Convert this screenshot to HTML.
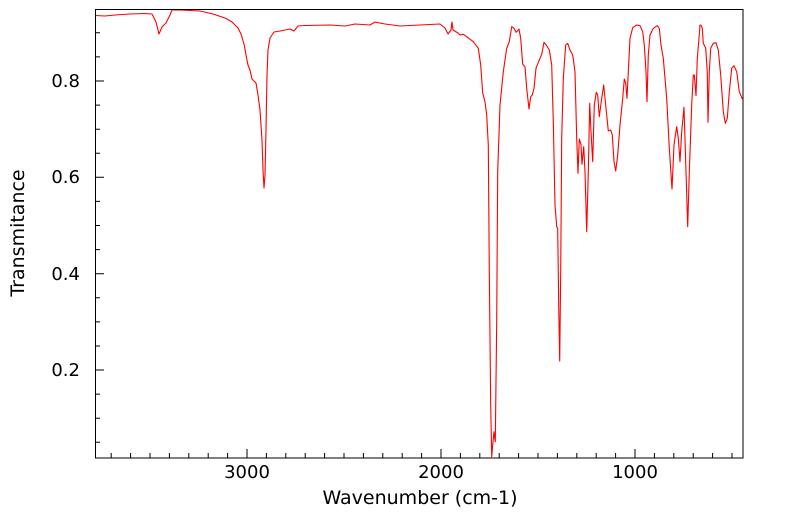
<!DOCTYPE html>
<html><head><style>
body{margin:0;background:#fff;}
svg text{font-family:"DejaVu Sans","Liberation Sans",sans-serif;fill:#000;}
</style></head><body>
<svg width="799" height="516" xmlns="http://www.w3.org/2000/svg">
<rect x="0" y="0" width="799" height="516" fill="#fff"/>
<polyline fill="none" stroke="#ff0000" stroke-width="1.1" stroke-linejoin="round" points="
95,15.5 105,16 115,15 130,14 145,13.5 152,14 156,22 159,34 162,27 166,23 170,15 172,10 180,10 200,11 213,14 225,18 232,22 238,28 241,34 244,44 246,55 248,65 250,70 252,79 256,83 258,95 260,110 262,140 263,170 264,188 265,175 266,130 267,75 268,50 270,38 274,32 280,31 290,29 294,31 298,26 305,25.5 330,25 345,26 355,24 370,25 375,22 385,24 400,26 420,25 440,24 445,28 448,34 451,30 452,22 453,30 458,33 460,35
463.3,34.3 466.7,36.7 473.3,41.7 478.3,48.3 480.7,65 482.7,93 485,101.7 486.7,115 488.3,145 489.3,271.7 490.7,405 491.7,456.7 492.7,445 494,431.7 494.7,438 495.3,441.7 496.7,321.7 497.7,171.7 500,105 503.3,71.7 506.7,48.3 509.3,41.7 511.7,26.7 514,28.3 516,32.3 517.3,31 519,29 520.7,38.3 522.7,64.3 525,66.7 526.7,88.3 529,109 530.7,96.7 532.3,95 534,88.3 536,68.3 538.3,62.3 541.7,54.3 544,42.3 546.7,45.7 549.3,50 551.7,65 553.3,121.7 555,205 556.7,226.7 557.7,228.3 558.7,305 559.7,361 560.7,271.7 561.7,138.3 563.3,78.3 565.7,45 567.7,43.3 570,50 572.7,55 575,71.7 576.7,138.3 578,173.3 579.3,139 581,144.3 582,164.3 583.7,146.7 585,171.7 586.7,231.7 588.3,171.7 589.7,103.3 591,131.7 592.7,161.7 594.3,105 596.3,92.3 597.7,95 599.3,116.7 601.7,98.3 603.7,85 605.7,105 608.3,131 610.7,130 612.3,135 614,161.7 615.7,171 617.7,155 620,125 622.7,98.3 624.3,79 625.7,83.3 627,98.3 628.3,71.7 630,38.3 632.7,27.7 636.7,25 640,25.7 642.7,31.7 644.3,45 646,71.7 647,101.7 648.3,55 650,35 653.3,28.3 657.3,25.7 659.3,28.3 661,45 663.3,58.3 666.7,98.3 669.3,148.3 672,189 674,145 676.7,126.7 678.3,138.3 680,161.7 681.7,131.7 684,107.3 686,171.7 687.7,226.7 689.3,171.7 691.7,105 693.3,75 694.3,75 696,95.7 697.3,58.3 699,38.3 700,25 701.3,25.7 702.3,28.3 703.3,43.3 705.7,48.3 707.3,71.7 708,122.3 709.3,71.7 710.7,48.3 713.3,43.3 716,42.7 718.3,50 720.7,75 723.3,111.7 725.3,123.3 727.3,118.3 729.3,91.7 731.7,68.3 734,65.7 736.7,71.7 739.3,91.7 742,98.3 743,99"/>
<path stroke="#000" stroke-width="1" fill="none" d="
M95,32.8h5M95,56.9h5M95,81h9M95,105.1h5M95,129.2h5M95,153.3h5M95,177.3h9M95,201.4h5M95,225.5h5M95,249.6h5M95,273.7h9M95,297.8h5M95,321.9h5M95,346h5M95,370h9M95,394.1h5M95,418.2h5M95,442.3h5
M732,458v-5M712.6,458v-5M693.2,458v-5M673.8,458v-5M654.4,458v-5M635,458v-9M615.6,458v-5M596.2,458v-5M576.8,458v-5M557.4,458v-5M538,458v-5M518.6,458v-5M499.2,458v-5M479.8,458v-5M460.4,458v-5M441,458v-9M421.6,458v-5M402.2,458v-5M382.8,458v-5M363.4,458v-5M344,458v-5M324.6,458v-5M305.2,458v-5M285.8,458v-5M266.4,458v-5M247,458v-9M227.6,458v-5M208.2,458v-5M188.8,458v-5M169.4,458v-5M150,458v-5M130.6,458v-5M111.2,458v-5"/>
<rect x="95.5" y="9.5" width="647.5" height="448.5" fill="none" stroke="#000" stroke-width="1"/>
<g font-size="18">
<text x="80" y="87" text-anchor="end">0.8</text>
<text x="80" y="183" text-anchor="end">0.6</text>
<text x="80" y="280" text-anchor="end">0.4</text>
<text x="80" y="376" text-anchor="end">0.2</text>
<text x="247" y="478" text-anchor="middle">3000</text>
<text x="441" y="478" text-anchor="middle">2000</text>
<text x="635" y="478" text-anchor="middle">1000</text>
<text x="420" y="504" text-anchor="middle" font-size="19">Wavenumber (cm-1)</text>
<text transform="translate(24,233) rotate(-90)" text-anchor="middle" font-size="19">Transmitance</text>
</g>
</svg>
</body></html>
